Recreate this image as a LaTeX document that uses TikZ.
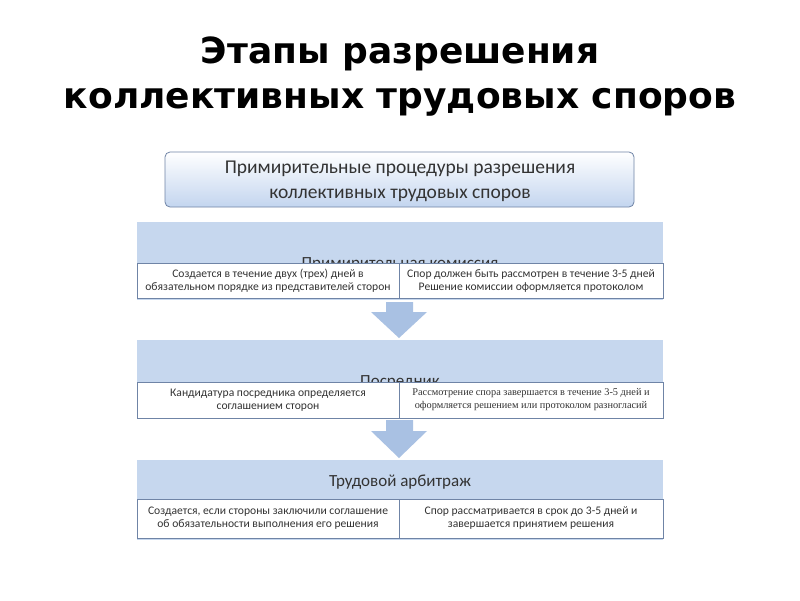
\documentclass[tikz,border=0pt]{standalone}
\usepackage{fontspec}
\setmainfont{Carlito}
\newfontfamily\titlefont{DejaVu Sans}
\newfontfamily\serifx{Liberation Serif}
\begin{document}
\begin{tikzpicture}[x=1pt,y=-1pt,
  band/.style={fill=bandblue,draw=none},
  cell/.style={draw=cellline,fill=white,line width=0.8pt},
  celltxt/.style={font=\fontsize{11.6}{13}\selectfont,align=center,text=black!80},
  bandtxt/.style={font=\fontsize{17}{19}\selectfont,text=black!80},
  arr/.style={fill=arrblue,draw=none}]
\definecolor{bandblue}{HTML}{C6D7EE}
\definecolor{arrblue}{HTML}{A9C1E3}
\definecolor{cellline}{HTML}{6F84A6}
\definecolor{topbot}{HTML}{C3D5EF}
\useasboundingbox (0,0) rectangle (800,600);
\fill[white] (0,0) rectangle (800,600);
\node[font=\titlefont\bfseries\fontsize{36}{45}\selectfont,align=center] (title) at (400,77) {Этапы разрешения\\коллективных трудовых споров};
\shade[top color=white,bottom color=topbot,draw=cellline,rounded corners=5pt,line width=0.8pt] (165,152) rectangle (634,207);
\node[font=\fontsize{19.5}{25}\selectfont,align=center,text=black!80] (top) at (400,181) {Примирительные процедуры разрешения\\коллективных трудовых споров};
% band 1
\fill[band] (137,222) rectangle (663,300);
\node[bandtxt] (b1) at (400,264) {Примирительная комиссия};
\draw[cell] (137,263) rectangle (399,298);
\draw[cell] (399,263) rectangle (663,298);
\node[celltxt] (c11) at (268,281) {Создается в течение двух (трех) дней в\\обязательном порядке из представителей сторон};
\node[celltxt] (c12) at (531,281) {Спор должен быть рассмотрен в течение 3-5 дней\\Решение комиссии оформляется протоколом};
\fill[arr] (386,302) -- (413,302) -- (413,312) -- (427,312) -- (399,338) -- (371,312) -- (386,312) -- cycle;
% band 2
\fill[band] (137,340) rectangle (663,418);
\node[bandtxt] (b2) at (400,382) {Посредник};
\draw[cell] (137,382) rectangle (399,418);
\draw[cell] (399,382) rectangle (663,418);
\node[celltxt] (c21) at (268,400) {Кандидатура посредника определяется\\соглашением сторон};
\node[celltxt,font=\serifx\fontsize{10.3}{13}\selectfont] (c22) at (531,400) {Рассмотрение спора завершается в течение 3-5 дней и\\оформляется решением или протоколом разногласий};
\fill[arr] (386,420) -- (413,420) -- (413,431) -- (427,431) -- (399,458) -- (371,431) -- (386,431) -- cycle;
% band 3
\fill[band] (137,460) rectangle (663,540);
\node[bandtxt] (b3) at (400,482) {Трудовой арбитраж};
\draw[cell] (137,499) rectangle (399,538);
\draw[cell] (399,499) rectangle (663,538);
\node[celltxt] (c31) at (268,518) {Создается, если стороны заключили соглашение\\об обязательности выполнения его решения};
\node[celltxt] (c32) at (531,518) {Спор рассматривается в срок до 3-5 дней и\\завершается принятием решения};
\end{tikzpicture}
\end{document}
